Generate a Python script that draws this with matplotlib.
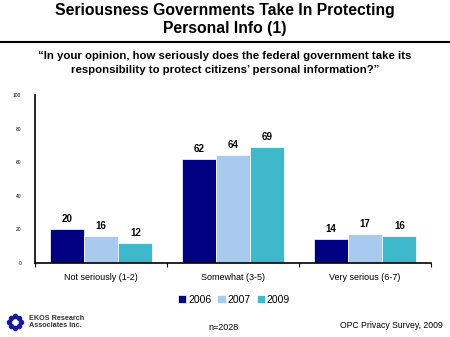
import matplotlib
matplotlib.use("Agg")
import matplotlib.pyplot as plt
import numpy as np

categories = ["Not seriously (1-2)", "Somewhat (3-5)", "Very serious (6-7)"]
years = ["2006", "2007", "2009"]
values_2006 = [20, 62, 14]
values_2007 = [16, 64, 17]
values_2009 = [12, 69, 16]
y_ticks = [0, 20, 40, 60, 80, 100]

colors = ["#000080", "#A8CAEE", "#40B8CC"]
series = [values_2006, values_2007, values_2009]

plt.rcParams['font.family'] = ['Liberation Sans', 'DejaVu Sans']
fig = plt.figure(figsize=(4.5, 3.37), dpi=100)
W, H = 450, 337

def fx(px):
    return px / W

def fy(py):
    return 1 - py / H

ax = fig.add_axes([fx(35), fy(263), fx(431) - fx(35), fy(95) - fy(263)])
x = np.arange(len(categories))
bw = 0.26
for i, (vals, c) in enumerate(zip(series, colors)):
    pos = x + (i - 1) * bw
    ax.bar(pos, vals, width=bw, color=c, edgecolor="white", linewidth=0.5, label=years[i])
    for p, v in zip(pos, vals):
        ax.text(p, v + 3, str(v), ha="center", va="bottom", fontsize=7, fontweight="bold")

ax.set_xlim(-0.5, len(categories) - 0.5)
ax.set_ylim(0, 100)
ax.set_yticks(y_ticks)
ax.set_yticklabels([str(t) for t in y_ticks], fontsize=3.5)
ax.tick_params(axis="y", length=0, pad=10)
ax.set_xticks(np.arange(len(categories) + 1) - 0.5, minor=False)
ax.set_xticklabels([""] * (len(categories) + 1))
ax.tick_params(axis="x", direction="out", length=3, width=0.8)
for xi, cat in zip(x, categories):
    ax.text(xi, -6, cat, ha="center", va="top", fontsize=6.5, transform=ax.transData)
for s in ["top", "right"]:
    ax.spines[s].set_visible(False)
ax.spines["left"].set_linewidth(1.2)
ax.spines["bottom"].set_linewidth(1.2)

leg = fig.legend(handles=ax.patches[0:1] + ax.patches[3:4] + ax.patches[6:7], labels=years,
                 loc="center", bbox_to_anchor=(fx(234), fy(300)), ncol=3, frameon=False,
                 fontsize=7.5, handlelength=0.8, handleheight=0.8, handletextpad=0.15,
                 columnspacing=0.6)

fig.text(0.5, fy(11), "Seriousness Governments Take In Protecting", ha="center", va="center",
         fontsize=11.3, fontweight="bold")
fig.text(0.5, fy(29), "Personal Info (1)", ha="center", va="center", fontsize=11.3, fontweight="bold")
fig.add_artist(plt.Line2D([0, 1], [fy(42), fy(42)], color="black", linewidth=1.5, transform=fig.transFigure))
fig.text(0.5, fy(56), "\u201cIn your opinion, how seriously does the federal government take its",
         ha="center", va="center", fontsize=8.2, fontweight="bold")
fig.text(0.5, fy(70), "responsibility to protect citizens\u2019 personal information?\u201d",
         ha="center", va="center", fontsize=8.2, fontweight="bold")

# logo
ang = np.linspace(0, 2 * np.pi, 9)[:-1]
fig.add_artist(plt.Line2D(fx(15) + np.cos(ang) * fx(6), fy(322) + np.sin(ang) * (6 / H),
                          linestyle="none", marker="o", markersize=3, color="#1a1a9a",
                          transform=fig.transFigure))
fig.text(fx(29), fy(322), "EKOS Research\nAssociates Inc.", ha="left", va="center",
         fontsize=5.2, fontweight="bold", color="#333333", linespacing=1.1)
fig.text(fx(224), fy(327), "n=2028", ha="center", va="center", fontsize=6.5)
fig.text(fx(443), fy(325), "OPC Privacy Survey, 2009", ha="right", va="center", fontsize=6.2)

fig.savefig("out.png", dpi=100)
